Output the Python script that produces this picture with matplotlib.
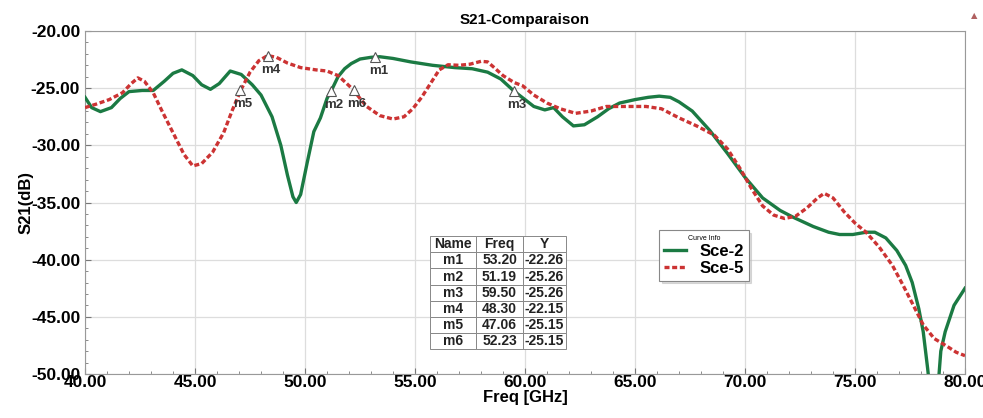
import matplotlib
matplotlib.use("Agg")
import matplotlib.pyplot as plt
from matplotlib.ticker import MultipleLocator

plt.rcParams['font.family'] = ['Liberation Sans', 'DejaVu Sans']
plt.rcParams['font.weight'] = 'bold'

# Sce-2 curve
sce2_freq = [40.0, 40.3, 40.7, 41.2, 41.6, 42.0, 42.6, 43.1, 43.6, 44.0, 44.4, 44.9, 45.3,
             45.7, 46.1, 46.6, 47.1, 47.6, 48.0, 48.5, 48.9, 49.2, 49.45, 49.6, 49.8, 50.1,
             50.4, 50.7, 51.0, 51.2, 51.5, 51.8, 52.1, 52.5, 53.0, 53.4, 54.0, 54.8, 55.8,
             56.8, 57.6, 58.3, 58.9, 59.5, 60.0, 60.4, 60.9, 61.3, 61.7, 62.2, 62.7, 63.3,
             63.8, 64.3, 65.0, 65.6, 66.1, 66.6, 67.0, 67.6, 68.4, 69.2, 70.0, 70.8, 71.6,
             72.2, 73.1, 73.8, 74.3, 74.9, 75.5, 75.9, 76.4, 76.9, 77.3, 77.6, 77.9, 78.1,
             78.3, 78.5, 78.7, 78.9, 79.1, 79.5, 80.0]
sce2_s21 = [-25.8, -26.7, -27.05, -26.7, -25.9, -25.3, -25.2, -25.2, -24.4, -23.7, -23.4,
            -23.9, -24.7, -25.1, -24.6, -23.5, -23.8, -24.7, -25.6, -27.5, -30.0, -32.6,
            -34.5, -35.0, -34.3, -31.5, -28.8, -27.6, -25.9, -25.2, -24.0, -23.3, -22.85,
            -22.45, -22.3, -22.25, -22.4, -22.7, -23.0, -23.2, -23.3, -23.6, -24.2, -25.26,
            -26.0, -26.6, -26.9, -26.7, -27.5, -28.3, -28.2, -27.5, -26.8, -26.3, -26.0,
            -25.8, -25.7, -25.8, -26.2, -27.0, -28.7, -30.7, -32.8, -34.6, -35.7, -36.3,
            -37.1, -37.6, -37.8, -37.8, -37.6, -37.6, -38.1, -39.2, -40.5, -42.0, -44.3,
            -46.3, -49.5, -53.0, -53.0, -48.0, -46.3, -44.0, -42.5]

# Sce-5 curve
sce5_freq = [40.0, 40.5, 41.1, 41.7, 42.1, 42.4, 42.7, 43.1, 43.5, 44.0, 44.5, 44.9, 45.3,
             45.8, 46.3, 46.7, 47.1, 47.5, 47.9, 48.3, 48.7, 49.2, 49.8, 50.5, 51.0, 51.5,
             51.9, 52.2, 52.5, 52.8, 53.4, 54.0, 54.5, 54.9, 55.3, 55.7, 56.1, 56.5, 57.0,
             57.5, 58.0, 58.3, 58.6, 59.0, 59.5, 59.9, 60.4, 61.0, 61.6, 62.3, 63.0, 63.7,
             64.5, 65.5, 66.2, 67.0, 67.8, 68.6, 69.2, 69.8, 70.3, 70.8, 71.3, 71.8, 72.3,
             72.8, 73.3, 73.6, 74.0, 74.5, 75.0, 75.5, 76.1, 76.7, 77.2, 77.6, 78.1, 78.6,
             79.2, 79.6, 80.0]
sce5_s21 = [-26.7, -26.4, -26.0, -25.4, -24.6, -24.1, -24.4, -25.4, -27.0, -28.9, -30.8,
            -31.8, -31.6, -30.6, -28.9, -26.9, -25.1, -23.6, -22.6, -22.15, -22.3, -22.8,
            -23.2, -23.4, -23.5, -23.9, -24.6, -25.15, -25.9, -26.6, -27.4, -27.7, -27.5,
            -26.8, -25.8, -24.6, -23.4, -22.95, -23.0, -22.9, -22.65, -22.7, -23.2, -23.9,
            -24.5, -24.8, -25.6, -26.3, -26.8, -27.2, -27.0, -26.6, -26.6, -26.6, -26.8,
            -27.6, -28.3, -29.1, -30.3, -32.1, -33.8, -35.3, -36.1, -36.4, -36.2, -35.5,
            -34.6, -34.2, -34.6, -35.8, -36.8, -37.6, -38.9, -40.5, -42.3, -43.8, -45.7,
            -46.9, -47.6, -48.1, -48.4]

marker_names = ['m1', 'm2', 'm3', 'm4', 'm5', 'm6']
marker_freq = [53.20, 51.19, 59.50, 48.30, 47.06, 52.23]
marker_y = [-22.26, -25.26, -25.26, -22.15, -25.15, -25.15]

fig = plt.figure(figsize=(9.83, 4.18), dpi=100)
ax = fig.add_axes([0.0865, 0.1053, 0.8952, 0.8205])

ax.plot(sce2_freq, sce2_s21, color='#1b7a43', lw=2.4, label='Sce-2', zorder=3)
ax.plot(sce5_freq, sce5_s21, color='#cc3333', lw=2.4, ls=(0, (1.5, 0.8)),
        label='Sce-5', zorder=4)

ax.plot(marker_freq, marker_y, ls='none', marker='^', markersize=7,
        markerfacecolor='white', markeredgecolor='#555555', markeredgewidth=0.8, zorder=5)
for n, fx, fy in zip(marker_names, marker_freq, marker_y):
    ax.annotate(n, (fx, fy), xytext=(2, -6), textcoords='offset points',
                ha='center', va='top', fontsize=9.5, color='#333333', zorder=6)

ax.set_xlim(40, 80)
ax.set_ylim(-50, -20)
ax.xaxis.set_major_locator(MultipleLocator(5))
ax.xaxis.set_minor_locator(MultipleLocator(1))
ax.yaxis.set_major_locator(MultipleLocator(5))
ax.yaxis.set_minor_locator(MultipleLocator(1))
ax.xaxis.set_major_formatter(matplotlib.ticker.FormatStrFormatter('%.2f'))
ax.yaxis.set_major_formatter(matplotlib.ticker.FormatStrFormatter('%.2f'))
ax.tick_params(which='both', direction='in', colors='#777777', labelcolor='black',
               labelsize=12.5)
ax.tick_params(which='major', length=4)
ax.tick_params(which='minor', length=2.5)
ax.tick_params(axis='x', pad=1)
ax.grid(True, which='major', color='#dddddd', lw=0.9)
for s in ax.spines.values():
    s.set_color('#999999')

ax.set_title('S21-Comparaison', fontsize=11, fontweight='bold', pad=5)
ax.set_xlabel('Freq [GHz]', fontsize=12, fontweight='bold', labelpad=0)
ax.set_ylabel('S21(dB)', fontsize=12, fontweight='bold', labelpad=-2)

leg = ax.legend(loc='upper left', bbox_to_anchor=(0.643, 0.443), title='Curve Info',
                fontsize=12, title_fontproperties={'size': 5, 'weight': 'normal'},
                handlelength=1.3, handletextpad=0.8, borderpad=0.3, labelspacing=0.1,
                frameon=True, fancybox=False, shadow={'ox': 2, 'oy': -2, 'color': '#bbbbbb'},
                edgecolor='#888888', framealpha=1)
for t in leg.get_texts():
    t.set_fontweight('bold')
leg.get_frame().set_linewidth(0.8)

# marker table
rows = [[n, '%.2f' % f, '%.2f' % y] for n, f, y in zip(marker_names, marker_freq, marker_y)]
tab = ax.table(cellText=rows, colLabels=['Name', 'Freq', 'Y'],
               cellLoc='center', colWidths=[0.34, 0.34, 0.32],
               bbox=[0.392, 0.072, 0.155, 0.33], zorder=7)
tab.auto_set_font_size(False)
tab.set_fontsize(10)
for (r, c), cell in tab.get_celld().items():
    cell.set_edgecolor('#888888')
    cell.set_linewidth(0.7)
    cell.set_facecolor('white')
    cell.get_text().set_fontweight('bold')
    cell.get_text().set_color('#222222')

fig.text(0.991, 0.962, '\u25b2', color='#b06060', fontsize=6, ha='center', va='center',
         family='DejaVu Sans')

fig.savefig('out.png', dpi=100)
